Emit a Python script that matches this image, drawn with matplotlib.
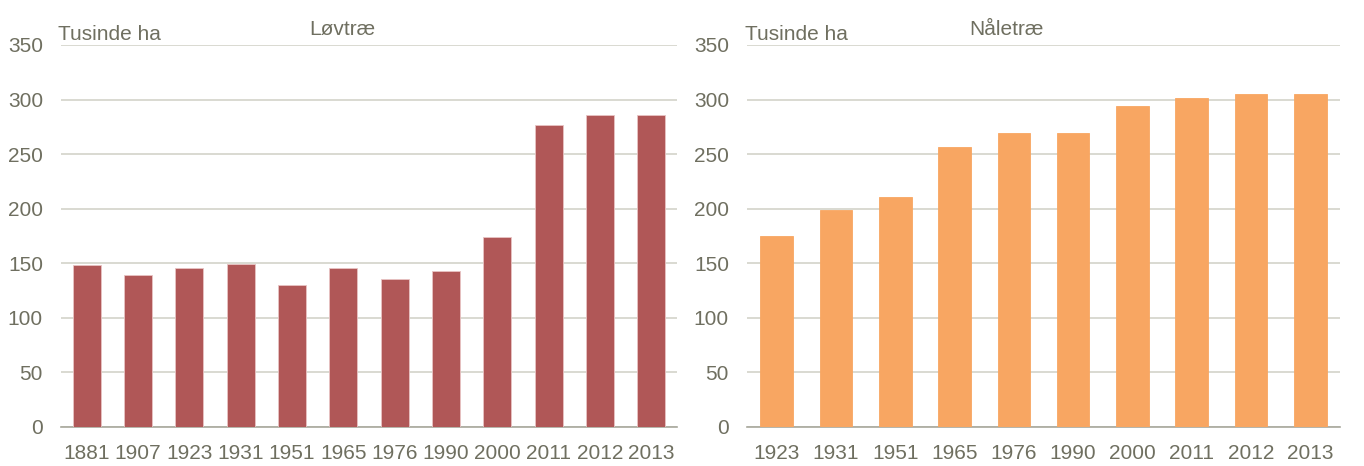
import matplotlib
matplotlib.use("Agg")
import matplotlib.pyplot as plt
import numpy as np

# data
loev_years = ['1881', '1907', '1923', '1931', '1951', '1965', '1976', '1990', '2000', '2011', '2012', '2013']
loev_values = [148, 139, 146, 149, 130, 146, 136, 143, 174, 277, 286, 286]

naal_years = ['1923', '1931', '1951', '1965', '1976', '1990', '2000', '2011', '2012', '2013']
naal_values = [175, 199, 211, 257, 269, 269, 294, 301, 305, 305]

y_ticks = [0, 50, 100, 150, 200, 250, 300, 350]

plt.rcParams['font.family'] = ['Liberation Sans Narrow', 'Liberation Sans', 'DejaVu Sans']
text_col = '#6f6f60'
grid_col = '#d3d3ca'

W, H = 1364, 466
fig = plt.figure(figsize=(W / 100, H / 100), dpi=100)

# axes positions in pixels (left, right, top y, bottom y)
ax1 = fig.add_axes([61 / W, 1 - 427 / H, (677 - 61) / W, (427 - 45) / H])
ax2 = fig.add_axes([747 / W, 1 - 427 / H, (1340 - 747) / W, (427 - 45) / H])


def draw(ax, cats, vals, color, edge):
    x = np.arange(len(cats))
    ax.bar(x, vals, width=0.55, color=color, edgecolor=edge, linewidth=0.6, zorder=3)
    ax.set_xlim(-0.5, len(cats) - 0.5)
    ax.set_ylim(0, 350)
    ax.set_yticks(y_ticks)
    ax.set_xticks(x)
    ax.set_xticklabels(cats)
    ax.yaxis.grid(True, color=grid_col, linewidth=1.2, zorder=0)
    for s in ['top', 'right', 'left']:
        ax.spines[s].set_visible(False)
    ax.spines['bottom'].set_color('#a8a89c')
    ax.spines['bottom'].set_linewidth(1.2)
    ax.tick_params(axis='both', length=0, labelsize=15, colors=text_col)
    ax.tick_params(axis='y', pad=13)
    ax.tick_params(axis='x', pad=12)


draw(ax1, loev_years, loev_values, '#b05757', '#e8c4c4')
draw(ax2, naal_years, naal_values, '#f8a662', '#f8a662')

fig.text(58 / W, 1 - 40 / H, 'Tusinde ha', fontsize=15, color=text_col, va='baseline')
fig.text(745 / W, 1 - 40 / H, 'Tusinde ha', fontsize=15, color=text_col, va='baseline')
fig.text(342 / W, 1 - 35 / H, 'Løvtræ', fontsize=15, color=text_col, va='baseline', ha='center')
fig.text(1006 / W, 1 - 35 / H, 'Nåletræ', fontsize=15, color=text_col, va='baseline', ha='center')

fig.savefig('out.png', dpi=100, facecolor='white')
